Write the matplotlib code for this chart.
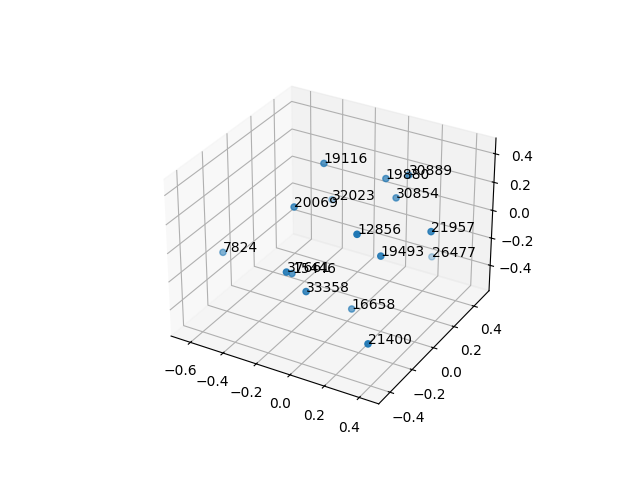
import matplotlib
matplotlib.use("Agg")
import matplotlib.pyplot as plt
import numpy as np

labels = ["19116", "19880", "30889", "30854", "32023", "20069", "12856", "21957",
          "19493", "26477", "7824", "37661", "15446", "33358", "16658", "21400"]
xs = [-0.116, 0.147, 0.268, 0.189, -0.302, -0.162, 0.299, 0.510,
      0.352, 0.173, -0.601, -0.016, -0.116, 0.051, 0.108, 0.445]
ys = [-0.034, 0.113, 0.127, 0.143, 0.312, -0.221, -0.374, -0.055,
      -0.249, 0.534, -0.216, -0.495, -0.310, -0.432, -0.124, -0.498]
zs = [0.511, 0.397, 0.450, 0.258, -0.027, 0.322, 0.398, 0.268,
      0.183, -0.440, -0.148, 0.120, -0.059, -0.035, -0.366, -0.197]

fig = plt.figure()
ax = fig.add_subplot(projection="3d")
ax.scatter(xs, ys, zs)
for x, y, z, label in zip(xs, ys, zs, labels):
    ax.text(x, y, z, label)
ax.set_xlim(-0.72, 0.51)
ax.set_ylim(-0.5, 0.556)
ax.set_zlim(-0.589, 0.509)
ax.set_xticks(np.arange(-0.6, 0.5, 0.2))
ax.set_yticks(np.arange(-0.4, 0.5, 0.2))
ax.set_zticks(np.arange(-0.4, 0.5, 0.2))
fig.savefig("out.png", dpi=100)
